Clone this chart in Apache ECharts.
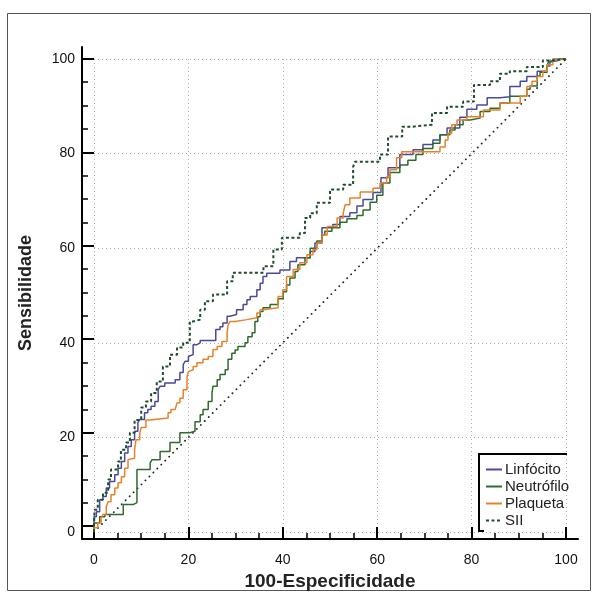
<!DOCTYPE html>
<html><head><meta charset="utf-8">
<script src="https://cdn.jsdelivr.net/npm/echarts@6/dist/echarts.min.js"></script>
<style>html,body{margin:0;padding:0;background:#fff}#c{width:598px;height:596px}</style>
</head><body><div id="c"></div>
<script>
const seriesNames = ['Linfócito', 'Neutrófilo', 'Plaqueta', 'SII'];
const xTitle = '100-Especificidade';
const yTitle = 'Sensibilidade';
const tickValues = [0, 20, 40, 60, 80, 100];
const minorTickValues = [5, 10, 15, 25, 30, 35, 45, 50, 55, 65, 70, 75, 85, 90, 95];

const linfocito = [[0,0],[0.5,3.2],[1.2,4.3],[1.9,6.8],[2.6,7.5],[3.3,9.3],[4.4,10.7],[5.1,12.1],[5.8,13.5],[6.5,14.9],[7.2,16.7],[7.9,18.1],[8.6,19.5],[9.3,21.3],[9.7,23.1],[10.7,23.8],[11.4,25.2],[12.1,25.9],[12.9,26.6],[13.6,27.6],[14.0,30.1],[15.0,30.8],[17.2,31.5],[18.2,32.2],[18.9,33.7],[19.3,35.4],[20.0,36.1],[20.3,37.1],[21.0,37.5],[21.8,39.6],[22.5,40.0],[25.8,40.5],[26.7,42.8],[27.3,43.4],[28.2,44.2],[28.8,45.6],[30.2,46.0],[31.6,47.0],[32.4,48.1],[33.1,49.1],[34.5,49.8],[35.2,51.2],[35.8,52.6],[36.6,54.0],[39.4,54.7],[41.5,55.4],[42.9,57.2],[45.8,58.0],[46.8,59.3],[48.3,61.1],[48.5,64.3],[50.6,64.3],[52.1,65.0],[54.2,66.7],[55.7,67.5],[57.0,68.9],[59.1,70.3],[60.8,71.8],[62.3,74.9],[64.8,77.0],[67.6,79.8],[69.7,80.8],[71.8,81.9],[73.3,82.9],[74.8,84.0],[77.5,85.4],[79.0,87.7],[81.1,89.4],[83.3,90.3],[86.0,91.8],[88.1,92.0],[90.3,94.2],[91.7,95.3],[93.9,96.3],[96.0,97.4],[96.6,98.5],[98.1,99.6],[98.7,100],[100,100]];

const neutrofilo = [[0,0],[1.2,1.9],[2.3,3.2],[2.7,3.7],[6.2,3.7],[8.3,5.8],[9.1,6.2],[9.4,13.2],[11.9,13.2],[12.3,14.6],[14.0,15.3],[16.1,17.0],[18.2,18.9],[20.3,21.0],[21.4,21.3],[22.5,23.3],[23.1,24.8],[24.2,25.9],[25.0,27.6],[25.2,29.4],[26.1,30.8],[26.7,32.2],[27.8,33.3],[28.4,34.3],[29.2,36.5],[29.9,37.8],[30.5,38.5],[32.0,39.2],[32.6,40.0],[33.5,41.3],[34.1,42.1],[34.7,44.5],[35.2,45.5],[35.8,46.6],[37.3,47.4],[39.0,48.1],[40.1,49.3],[40.8,50.8],[41.5,52.2],[42.6,53.7],[43.2,55.1],[44.7,56.5],[45.8,58.0],[47.2,60.0],[48.3,61.5],[48.9,62.8],[50.4,63.6],[52.1,64.3],[53.6,65.5],[55.7,66.2],[57.0,66.9],[58.5,68.1],[59.9,69.7],[61.2,71.2],[62.7,73.8],[64.8,76.0],[66.5,77.6],[68.2,78.6],[69.7,79.8],[71.8,81.1],[73.3,82.2],[75.4,84.0],[76.5,85.0],[78.2,86.1],[79.7,87.1],[81.8,87.5],[83.9,88.9],[86.0,89.6],[88.1,90.7],[88.8,92.1],[91.7,92.1],[92.4,93.6],[93.9,94.3],[94.5,96.4],[96.0,97.2],[96.3,98.6],[97.2,99.4],[97.7,100],[100,100]];

const plaqueta = [[0,0],[0.8,0.9],[1.5,1.9],[1.9,3.0],[2.6,3.7],[3.0,5.4],[3.6,6.4],[4.4,7.9],[5.1,9.3],[5.8,10.4],[6.5,11.7],[7.2,13.5],[7.6,15.3],[8.6,15.6],[8.9,17.4],[9.7,19.5],[10.0,20.9],[11.0,22.1],[11.9,23.7],[15.7,24.1],[16.3,25.2],[17.2,25.9],[17.6,26.3],[18.2,27.3],[18.9,28.3],[19.7,30.1],[20.0,32.8],[20.3,33.9],[21.0,34.3],[21.8,35.0],[23.1,35.8],[24.2,36.5],[25.2,37.1],[26.1,38.6],[27.1,39.2],[28.2,40.3],[28.4,42.1],[28.8,43.8],[29.9,44.5],[32.4,44.9],[34.5,45.3],[35.2,46.3],[35.8,47.0],[39.0,47.4],[40.0,49.8],[40.8,51.2],[42.2,54.0],[43.6,55.5],[45.1,56.9],[46.4,58.6],[47.2,59.7],[48.3,61.1],[49.4,62.8],[51.5,64.6],[52.8,66.4],[53.2,67.4],[54.2,69.2],[56.4,70.6],[59.1,71.9],[60.6,72.7],[62.0,73.8],[62.7,75.1],[64.1,76.6],[65.2,79.1],[67.6,80.4],[73.3,80.4],[74.4,81.4],[75.0,82.9],[75.8,84.3],[76.9,86.1],[79.0,87.1],[80.3,87.8],[82.5,87.8],[86.0,89.2],[90.3,90.7],[91.7,92.1],[92.8,94.2],[93.9,95.3],[95.1,96.3],[96.0,97.4],[97.2,98.8],[98.1,99.8],[100,100]];

const sii = [[0,0],[0.1,0.5],[0.8,4.7],[1.9,6.8],[3.0,8.3],[3.6,11.1],[5.1,13.2],[5.7,14.9],[6.8,17.4],[7.6,18.9],[8.6,21.0],[10.0,23.7],[11.0,26.3],[12.1,27.6],[13.3,29.4],[14.6,31.8],[16.1,35.0],[17.6,37.5],[18.9,39.0],[20.3,40.0],[21.0,44.5],[22.5,44.9],[23.5,47.0],[25.2,48.8],[28.2,50.2],[29.4,53.0],[33.1,54.8],[35.9,54.8],[38.0,56.2],[39.8,59.7],[40.5,62.2],[43.6,62.2],[44.7,63.2],[45.8,66.4],[47.2,67.4],[50.0,69.6],[52.8,72.4],[54.9,73.4],[55.3,77.2],[60.6,78.3],[62.3,79.8],[65.3,83.6],[67.6,85.7],[71.6,86.1],[74.8,88.6],[78.2,89.9],[80.5,91.0],[83.9,94.5],[86.0,95.3],[88.1,96.9],[91.7,97.4],[95.1,98.3],[97.2,99.7],[100,100]];

const diagonal = [[0,0],[100,100]];

const colors = ['#4a4a9c', '#2f6b2f', '#e8822a', '#1f4d2a'];
const FONT = '"Liberation Sans", Arial, sans-serif';

const chart = echarts.init(document.getElementById('c'), null, {renderer: 'canvas'});

function roc(name, data, color, lineStyleExtra) {
  return {
    name: name, type: 'line', data: data, step: 'start',
    xAxisIndex: 0, yAxisIndex: 0,
    symbol: 'none', showSymbol: false,
    itemStyle: {color: color},
    lineStyle: Object.assign({color: color, width: 1.5}, lineStyleExtra || {}),
    z: 3
  };
}

// frame axes extend 12-13 px beyond the data range (offset axes, as in the original)
const frameX = {min: -2.542, max: 102.542};
const frameY = {min: -2.748, max: 102.537};

function frameAxis(dim, range, major, extra) {
  return Object.assign({
    type: 'value', gridIndex: 1, min: range.min, max: range.max,
    position: dim === 'x' ? 'bottom' : 'left',
    axisLine: {show: major, onZero: false, lineStyle: {color: '#000', width: 2}},
    axisTick: {show: true, inside: true, length: major ? 12 : 6,
      customValues: major ? tickValues : minorTickValues,
      lineStyle: {color: '#000', width: major ? 2 : 1.5}},
    axisLabel: {show: false}, splitLine: {show: false}
  }, extra || {});
}

const option = {
  animation: false,
  backgroundColor: '#fff',
  grid: [
    {left: 94, right: 32, top: 59, bottom: 64},
    {left: 82, right: 20, top: 47, bottom: 51}
  ],
  xAxis: [
    {type: 'value', gridIndex: 0, min: 0, max: 100, interval: 20, offset: 13,
     axisLine: {show: false}, axisTick: {show: false},
     axisLabel: {margin: 8, fontSize: 14, color: '#111', fontFamily: FONT},
     splitLine: {show: true, lineStyle: {color: '#aaa', width: 1, type: [1, 3]}}},
    frameAxis('x', frameX, true, {
      name: xTitle, nameLocation: 'middle', nameGap: 33,
      nameTextStyle: {fontSize: 19, fontWeight: 'bold', color: '#222', fontFamily: FONT}}),
    frameAxis('x', frameX, false)
  ],
  yAxis: [
    {type: 'value', gridIndex: 0, min: 0, max: 100, interval: 20, offset: 12,
     axisLine: {show: false}, axisTick: {show: false},
     axisLabel: {margin: 7, fontSize: 14, color: '#111', fontFamily: FONT},
     splitLine: {show: true, lineStyle: {color: '#aaa', width: 1, type: [1, 3]}}},
    frameAxis('y', frameY, true, {
      name: yTitle, nameLocation: 'middle', nameGap: 47, nameRotate: 90,
      nameTextStyle: {fontSize: 18, fontWeight: 'bold', color: '#222', fontFamily: FONT}}),
    frameAxis('y', frameY, false)
  ],
  legend: {
    data: seriesNames, orient: 'vertical', left: 485, top: 462,
    itemWidth: 16, itemHeight: 14, itemGap: 2, padding: 0,
    itemStyle: {opacity: 0},
    textStyle: {fontSize: 15, color: '#222', fontFamily: FONT, padding: [0, 0, 0, -2]}
  },
  series: [
    {type: 'line', data: diagonal, xAxisIndex: 0, yAxisIndex: 0, symbol: 'none', silent: true,
     lineStyle: {color: '#222', width: 1.8, type: [0.1, 5.5], cap: 'round'}, z: 2},
    roc(seriesNames[0], linfocito, colors[0]),
    roc(seriesNames[1], neutrofilo, colors[1]),
    roc(seriesNames[2], plaqueta, colors[2]),
    roc(seriesNames[3], sii, colors[3], {width: 2, type: [3, 2.5]})
  ],
  graphic: [
    {type: 'rect', shape: {x: 7.5, y: 13.5, width: 583, height: 577}, style: {fill: 'none', stroke: '#555', lineWidth: 1}, silent: true, z: 0},
    {type: 'polyline', shape: {points: [[484, 531], [479, 531], [479, 454], [567, 454]]}, style: {fill: 'none', stroke: '#000', lineWidth: 2}, silent: true, z: 10}
  ]
};
chart.setOption(option);
</script>
</body></html>
